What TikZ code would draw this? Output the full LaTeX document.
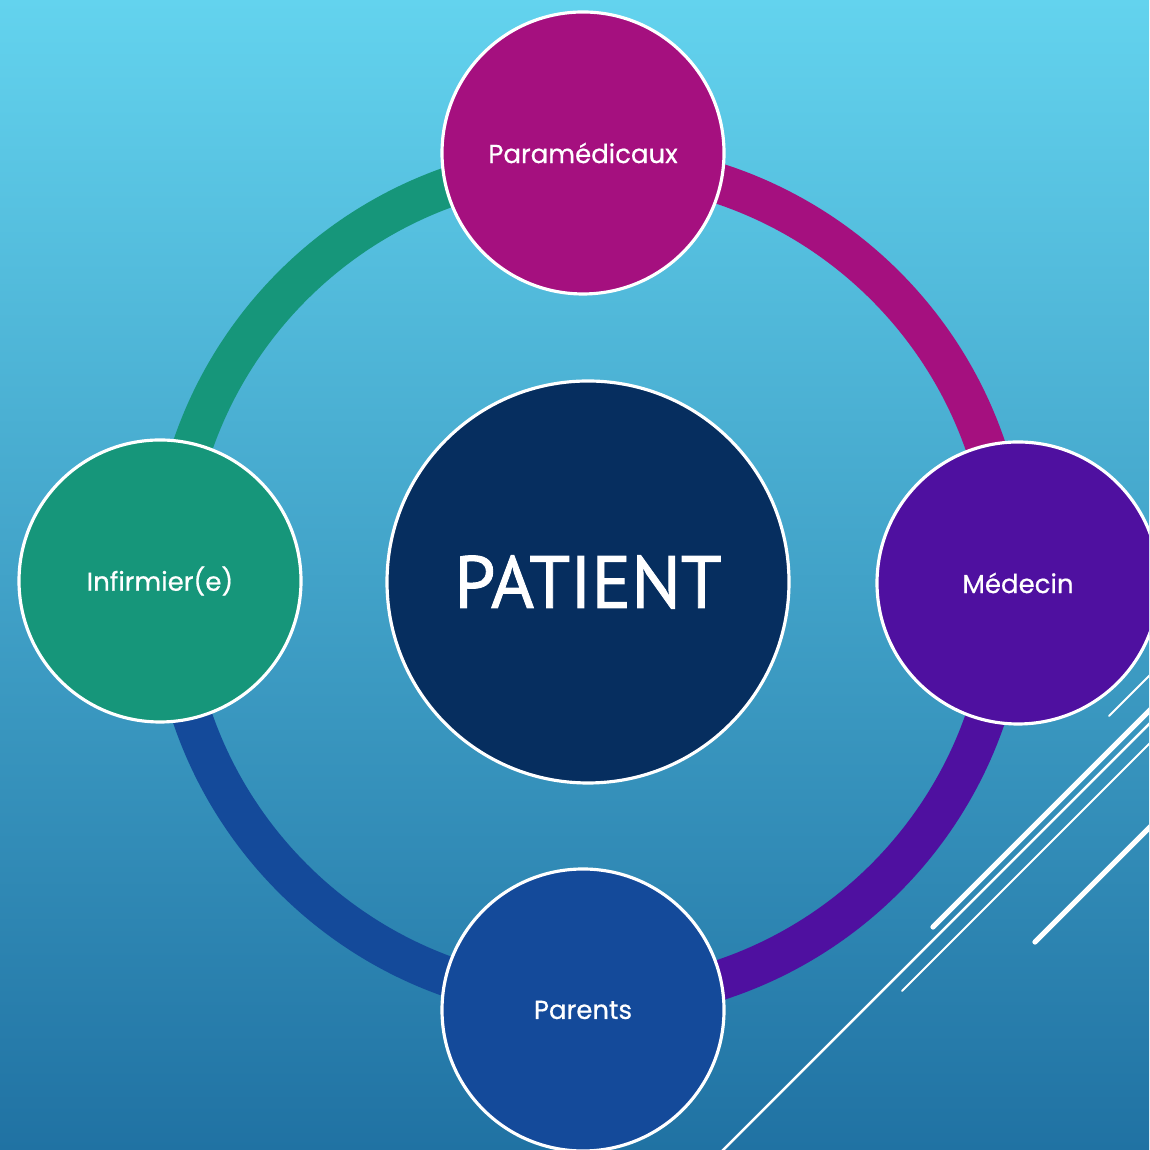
\documentclass[tikz,border=0pt]{standalone}
\usepackage{fontspec}
\setsansfont{Poppins}[FakeBold=0.6]
\newfontfamily\hubfont{PT Sans}[FakeBold=1.2]
\usepackage{tikz}

\definecolor{skytop}{HTML}{63D3EE}
\definecolor{skybot}{HTML}{2072A3}
\definecolor{navyc}{HTML}{062E5F}
\definecolor{magc}{HTML}{A5107F}
\definecolor{purc}{HTML}{4F10A0}
\definecolor{bluec}{HTML}{144A9A}
\definecolor{greenc}{HTML}{16967A}

\begin{document}
\begin{tikzpicture}[
  disc/.style={circle, draw=white, line width=0.9pt, minimum size=2.82cm, inner sep=0pt,
    text=white, font=\sffamily\fontsize{7.4}{9}\selectfont},
  ringarc/.style={line width=0.40cm},
  streak/.style={white, line cap=round}]
\useasboundingbox (0,0) rectangle (11.49,11.50);
\clip (0,0) rectangle (11.49,11.50);
\shade[top color=skytop, bottom color=skybot] (0,0) rectangle (11.49,11.50);

\coordinate (hub) at (5.89,5.68);
\draw[ringarc, magc] (hub) ++(90:4.19) arc[start angle=90, end angle=0, radius=4.19];
\draw[ringarc, purc] (hub) ++(0:4.19) arc[start angle=0, end angle=-90, radius=4.19];
\draw[ringarc, bluec] (hub) ++(-90:4.19) arc[start angle=-90, end angle=-180, radius=4.19];
\draw[ringarc, greenc] (hub) ++(180:4.19) arc[start angle=180, end angle=90, radius=4.19];

\draw[streak, line width=0.55pt] (11.60,4.85) -- (11.09,4.34);
\draw[streak, line width=1.5pt] (11.60,4.50) -- (9.33,2.23);
\draw[streak, line width=0.7pt] (11.60,4.37) -- (7.13,-0.10);
\draw[streak, line width=0.55pt] (11.60,4.17) -- (9.02,1.59);
\draw[streak, line width=1.5pt] (11.60,3.33) -- (10.35,2.08);

\node[disc, fill=navyc, minimum size=4.02cm, font=\hubfont\fontsize{21}{25}\selectfont] (patient) at (5.88,5.68) {PATIENT};
\node[disc, fill=magc] (para) at (5.83,9.97) {Paramédicaux};
\node[disc, fill=purc] (medecin) at (10.18,5.67) {Médecin};
\node[disc, fill=bluec] (parents) at (5.83,1.40) {Parents};
\node[disc, fill=greenc] (infirm) at (1.60,5.69) {Infirmier(e)};
\end{tikzpicture}
\end{document}
